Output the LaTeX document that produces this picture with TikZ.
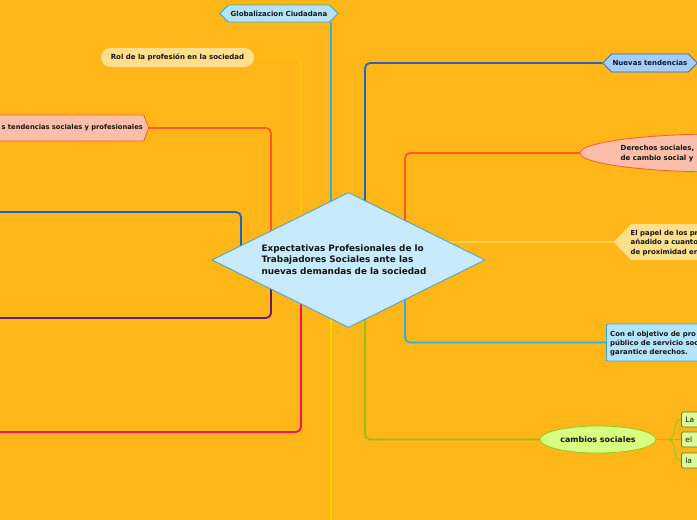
\documentclass[tikz,border=0pt]{standalone}
\usepackage{fontspec}
\setmainfont{DejaVu Sans}
\usetikzlibrary{shapes.geometric,shapes.symbols,shapes.misc}
\definecolor{bgc}{RGB}{255,182,25}
\definecolor{cfill}{RGB}{199,235,252}
\definecolor{cline}{RGB}{70,160,215}
\definecolor{gfill}{RGB}{180,228,250}
\definecolor{gline}{RGB}{50,170,225}
\definecolor{rolfill}{RGB}{255,222,140}
\definecolor{rolline}{RGB}{255,196,20}
\definecolor{salfill}{RGB}{250,190,170}
\definecolor{redor}{RGB}{255,90,35}
\definecolor{bluel}{RGB}{25,100,200}
\definecolor{purp}{RGB}{95,30,115}
\definecolor{crim}{RGB}{255,15,90}
\definecolor{yel}{RGB}{255,215,0}
\definecolor{nfill}{RGB}{165,205,255}
\definecolor{nline}{RGB}{40,100,190}
\definecolor{papline}{RGB}{255,205,80}
\definecolor{ygreen}{RGB}{150,190,20}
\definecolor{cambfill}{RGB}{215,255,130}
\definecolor{cambline}{RGB}{150,200,30}
\definecolor{boxfill}{RGB}{220,250,150}
\definecolor{boxline}{RGB}{110,120,30}
\definecolor{txt}{RGB}{20,20,20}
\pgfdeclarelayer{lines}
\pgfsetlayers{lines,main}
\begin{document}
\begin{tikzpicture}[x=1pt,y=-1pt,
  conn/.style={line width=1.8pt, rounded corners=5pt},
  small/.style={font=\fontsize{7.0}{10}\selectfont\bfseries, text=txt},
  tiny/.style={font=\fontsize{6.9}{9.5}\selectfont\bfseries, text=txt, align=left, inner sep=0pt},
  hexnode/.style={signal, signal to=east and west, inner sep=1pt, line width=0.8pt},
  leafbox/.style={rectangle, rounded corners=1.5pt, draw=boxline, fill=boxfill, line width=0.8pt,
     anchor=west, minimum width=40pt, minimum height=15pt, text width=32pt, align=left,
     inner xsep=4pt, inner ysep=0pt, font=\fontsize{7.5}{9}\selectfont, text=txt}]
\useasboundingbox (0,0) rectangle (697,520);
\begin{pgfonlayer}{lines}
\fill[bgc] (0,0) rectangle (697,520);
\end{pgfonlayer}
\clip (0,0) rectangle (697,520);

% central node
\node[diamond, draw=cline, fill=cfill, minimum width=273pt, minimum height=135pt, inner sep=0pt, line width=0.8pt] (c) at (348.5,260) {};
\node[align=left, font=\fontsize{8.85}{11.6}\selectfont\bfseries, text=txt, inner sep=0pt] (ct) at (344,259.5)
  {Expectativas Profesionales de lo\\Trabajadores Sociales ante las\\nuevas demandas de la sociedad};

% top / left nodes
\node[hexnode, draw=gline, fill=gfill, minimum width=118pt, minimum height=17pt, small] (glob) at (279,13.5) {Globalizacion Ciudadana};
\node[rounded rectangle, fill=rolfill, minimum width=155pt, minimum height=19pt, inner sep=1pt, small] (rol) at (177.5,57.5) {Rol de la profesión en la sociedad};
\node[hexnode, signal pointer angle=140, draw=redor, fill=salfill, anchor=east, minimum height=26pt,
  text width=176pt, align=right, small, font=\fontsize{6.75}{10}\selectfont\bfseries] (tend) at (149,128) {s tendencias sociales y profesionales};
\coordinate (lb) at (-5,212);
\coordinate (lp) at (-5,318);
\coordinate (lr) at (-5,432);
\coordinate (ly) at (331,525);

% right nodes
\node[hexnode, draw=nline, fill=nfill, minimum width=94pt, minimum height=18pt, small] (nuevas) at (650,63) {Nuevas tendencias};
\node[ellipse, draw=redor, fill=salfill, minimum width=280pt, minimum height=38pt, line width=0.8pt, inner sep=0pt] (der) at (720,153) {};
\node[small, anchor=west, align=left, inner sep=0pt] (dtext) at (620.5,154) {Derechos sociales,\\de cambio social y};
\node[signal, signal to=west, fill=rolfill, anchor=west, minimum width=160pt, minimum height=36pt, inner sep=0pt] (papel) at (613,242) {};
\node[tiny, anchor=west] (ptext) at (630.5,243) {El papel de los pr\\añadido a cuanto\\de proximidad en};
\node[rectangle, rounded corners=2pt, draw=gline, fill=gfill, line width=0.8pt, anchor=west, minimum width=120pt, minimum height=37pt] (obj) at (606,342.5) {};
\node[tiny, anchor=west, font=\fontsize{6.9}{8.8}\selectfont\bfseries] (otext) at (610,343.5) {Con el objetivo de pro\\público de servicio soc\\garantice derechos.};
\node[ellipse, draw=cambline, fill=cambfill, minimum width=116pt, minimum height=27pt, line width=0.8pt, inner sep=0pt,
  font=\fontsize{7.9}{9}\selectfont\bfseries, text=txt] (camb) at (598,439.5) {cambios sociales};
\node[leafbox] (b1) at (681,419.5) {La};
\node[leafbox] (b2) at (681,439.5) {el};
\node[leafbox] (b3) at (681,460.5) {la};

% connectors
\begin{pgfonlayer}{lines}
\draw[conn, draw=gline] (c.center) -| ([xshift=52pt]glob.south);
\draw[conn, draw=rolline] (c.center) -- ++(-47.5,0) |- (rol.east);
\draw[conn, draw=redor] (c.center) -- ++(-77.5,0) |- (tend.east);
\draw[conn, draw=bluel] (c.center) -- ++(-107.5,0) |- (lb);
\draw[conn, draw=purp] (c.center) -- ++(-77.5,0) |- (lp);
\draw[conn, draw=crim] (c.center) -- ++(-47.5,0) |- (lr);
\draw[conn, draw=yel] (c.center) -| (ly);
\draw[conn, draw=nline] (c.center) -- ++(16.5,0) |- (nuevas.west);
\draw[conn, draw=redor] (c.center) -- ++(56.5,0) |- (der.west);
\draw[conn, draw=papline] (c.center |- papel.west) -- (papel.west);
\draw[conn, draw=gline] (c.center) -- ++(56.5,0) |- (obj.west);
\draw[conn, draw=ygreen] (c.center) -- ++(16.5,0) |- (camb.west);
\draw[line width=1pt, draw=cambline] (camb.east) -- ++(12,0) coordinate (sp);
\draw[line width=1pt, draw=cambline] (sp) to[out=0,in=180] (b1.west);
\draw[line width=1pt, draw=cambline] (sp) -- (b2.west);
\draw[line width=1pt, draw=cambline] (sp) to[out=0,in=180] (b3.west);
\end{pgfonlayer}
\end{tikzpicture}
\end{document}
